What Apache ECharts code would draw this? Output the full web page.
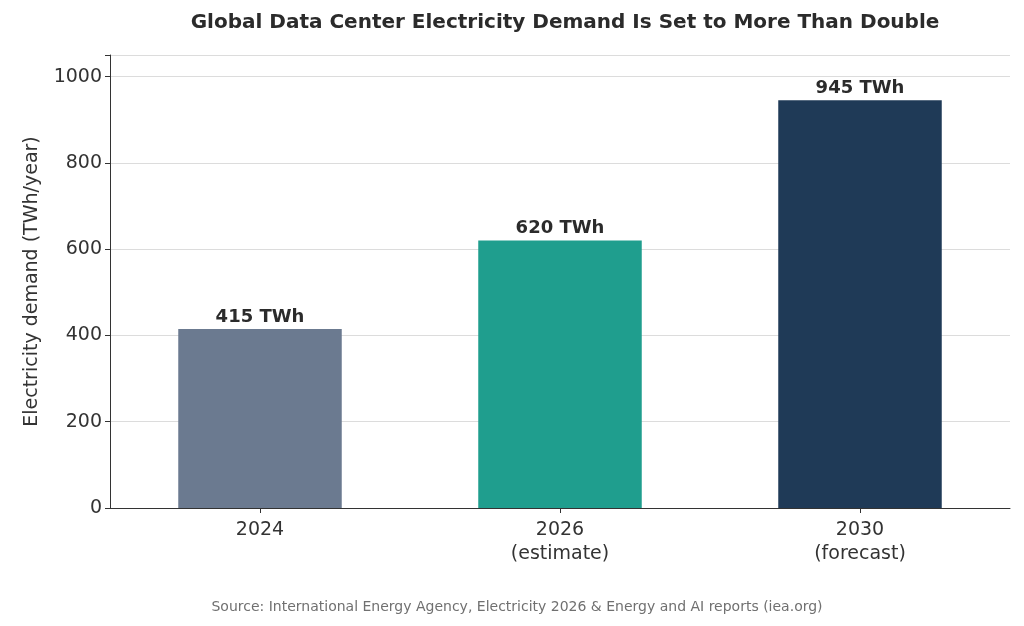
<!DOCTYPE html>
<html><head><meta charset="utf-8">
<script src="https://cdn.jsdelivr.net/npm/echarts@6/dist/echarts.min.js"></script>
<style>html,body{margin:0;padding:0;background:#fff}#c{width:1024px;height:626px}</style>
</head><body><div id="c"></div>
<script>
const categories = ['2024', '2026\n(estimate)', '2030\n(forecast)'];
const values = [415, 620, 945];
const labels = ['415 TWh', '620 TWh', '945 TWh'];
const colors = ['#6b7a90', '#1f9e8e', '#1f3a57'];
const chart = echarts.init(document.getElementById('c'));
const F = 'DejaVu Sans';
chart.setOption({
  animation: false,
  textStyle: {fontFamily: F},
  title: [{text: 'Global Data Center Electricity Demand Is Set to More Than Double', left: 560, top: 8, textAlign: 'center',
    textStyle: {fontFamily: F, fontSize: 20, fontWeight: 'bold', color: '#2b2b2b'}},
    {text: 'Source: International Energy Agency, Electricity 2026 & Energy and AI reports (iea.org)', left: 512, top: 595, textAlign: 'center',
    textStyle: {fontFamily: F, fontSize: 14, fontWeight: 'normal', color: '#707070'}}],
  grid: {left: 110, right: 14, top: 55, bottom: 118},
  xAxis: {type: 'category', data: categories,
    axisLine: {lineStyle: {color: '#333'}}, axisTick: {show: true, lineStyle: {color: '#333'}, alignWithLabel: true},
    axisLabel: {fontSize: 19, color: '#333', lineHeight: 24, margin: 10, fontFamily: F}},
  yAxis: {type: 'value', min: 0, max: 1050, interval: 200,
    name: 'Electricity demand (TWh/year)', nameLocation: 'middle', nameGap: 68,
    nameTextStyle: {fontSize: 19, color: '#333', fontFamily: F},
    axisLine: {show: true, lineStyle: {color: '#333'}}, axisTick: {show: true, lineStyle: {color: '#333'}},
    axisLabel: {fontSize: 19, color: '#333', fontFamily: F, formatter: v => v % 200 === 0 ? v : ''},
    splitLine: {lineStyle: {color: '#dcdcdc'}}},
  series: [{type: 'bar', barWidth: '54.5%',
    data: values.map((v, i) => ({value: v, itemStyle: {color: colors[i]},
      label: {show: true, position: 'top', formatter: labels[i], fontSize: 18, fontWeight: 'bold', color: '#2b2b2b', distance: 3, fontFamily: F}}))}]
});
</script></body></html>
